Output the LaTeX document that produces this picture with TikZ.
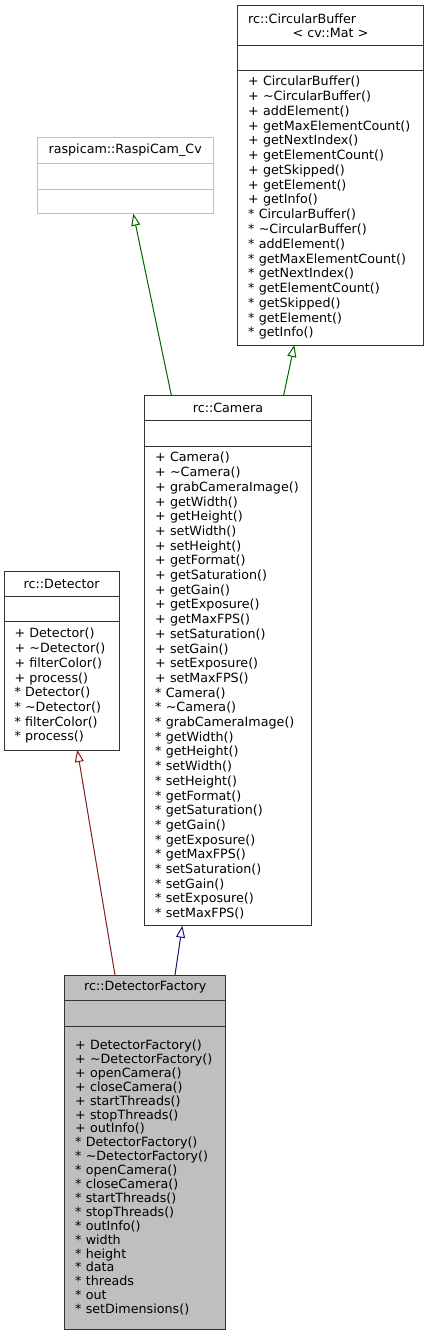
\documentclass[tikz,border=0pt]{standalone}
\usepackage{fontspec}
\setmainfont{DejaVu Sans}
\usetikzlibrary{arrows.meta,positioning}
\definecolor{inhgreen}{HTML}{006400}
\definecolor{inhred}{HTML}{8B1A1A}
\definecolor{inhblue}{HTML}{191970}

\begin{document}
\begin{tikzpicture}[x=1pt,y=-1pt,
  >={Triangle[open,length=12pt,width=9pt]},
  part/.style={draw=black!80,line width=1pt,outer sep=0pt,inner xsep=10.5pt,inner ysep=0pt,
    font=\fontsize{12.7}{14.7}\selectfont},
  ttl/.style={part,align=center},
  ops/.style={part,align=left},
  ext/.style={draw=black!25},
  inh/.style={->,line width=1pt}]
  \useasboundingbox (0,0) rectangle (429,1336);
  % template base
  \node[ttl,text width=164.6pt,minimum height=40pt,anchor=north west] (cbT) at (237.7,5.7)
    {\makebox[\linewidth][l]{rc::CircularBuffer}\\< cv::Mat >};
  \node[part,minimum width=185.6pt,minimum height=25pt,below=0pt of cbT] (cbA) {};
  \node[ops,text width=164.6pt,minimum height=274.3pt,below=0pt of cbA,
    font=\fontsize{12.7}{14.76}\selectfont] (cbM)
    {+ CircularBuffer()\\+ \textasciitilde CircularBuffer()\\+ addElement()\\+ getMaxElementCount()\\
     + getNextIndex()\\+ getElementCount()\\+ getSkipped()\\+ getElement()\\+ getInfo()\\
     {*} CircularBuffer()\\{*} \textasciitilde CircularBuffer()\\{*} addElement()\\{*} getMaxElementCount()\\
     {*} getNextIndex()\\{*} getElementCount()\\{*} getSkipped()\\{*} getElement()\\{*} getInfo()};
  % external class
  \node[ttl,ext,text width=154.7pt,minimum height=26pt,anchor=north west] (rcT) at (37.3,137.3)
    {raspicam::RaspiCam\_Cv};
  \node[part,ext,minimum width=175.7pt,minimum height=25.7pt,below=0pt of rcT] (rcA) {};
  \node[part,ext,minimum width=175.7pt,minimum height=24.7pt,below=0pt of rcA] (rcM) {};
  % camera
  \node[ttl,text width=145.6pt,minimum height=25.3pt,anchor=north west] (camT) at (144.7,395)
    {rc::Camera};
  \node[part,minimum width=166.6pt,minimum height=25.7pt,below=0pt of camT] (camA) {};
  \node[ops,text width=145.6pt,minimum height=479.7pt,below=0pt of camA] (camM)
    {+ Camera()\\+ \textasciitilde Camera()\\+ grabCameraImage()\\+ getWidth()\\+ getHeight()\\
     + setWidth()\\+ setHeight()\\+ getFormat()\\+ getSaturation()\\+ getGain()\\+ getExposure()\\
     + getMaxFPS()\\+ setSaturation()\\+ setGain()\\+ setExposure()\\+ setMaxFPS()\\
     {*} Camera()\\{*} \textasciitilde Camera()\\{*} grabCameraImage()\\{*} getWidth()\\{*} getHeight()\\
     {*} setWidth()\\{*} setHeight()\\{*} getFormat()\\{*} getSaturation()\\{*} getGain()\\{*} getExposure()\\
     {*} getMaxFPS()\\{*} setSaturation()\\{*} setGain()\\{*} setExposure()\\{*} setMaxFPS()};
  % detector
  \node[ttl,text width=94.3pt,minimum height=25pt,anchor=north west] (detT) at (4,571)
    {rc::Detector};
  \node[part,minimum width=115.3pt,minimum height=25.7pt,below=0pt of detT] (detA) {};
  \node[ops,text width=94.3pt,minimum height=128.3pt,below=0pt of detA] (detM)
    {+ Detector()\\+ \textasciitilde Detector()\\+ filterColor()\\+ process()\\
     {*} Detector()\\{*} \textasciitilde Detector()\\{*} filterColor()\\{*} process()};
  % detector factory
  \node[ttl,fill=black!25,text width=140pt,minimum height=25.3pt,anchor=north west] (dfT) at (64.7,975)
    {rc::DetectorFactory};
  \node[part,fill=black!25,minimum width=161pt,minimum height=25.7pt,below=0pt of dfT] (dfA) {};
  \node[ops,fill=black!25,text width=140pt,minimum height=303.3pt,below=0pt of dfA,
    font=\fontsize{12.7}{13.9}\selectfont] (dfM)
    {+ DetectorFactory()\\+ \textasciitilde DetectorFactory()\\+ openCamera()\\+ closeCamera()\\
     + startThreads()\\+ stopThreads()\\+ outInfo()\\{*} DetectorFactory()\\{*} \textasciitilde DetectorFactory()\\
     {*} openCamera()\\{*} closeCamera()\\{*} startThreads()\\{*} stopThreads()\\{*} outInfo()\\
     {*} width\\{*} height\\{*} data\\{*} threads\\{*} out\\{*} setDimensions()};
  % inheritance
  \draw[inh,inhgreen] ([xshift=26.6pt]camT.north west) -- ([xshift=96pt]rcM.south west);
  \draw[inh,inhgreen] ([xshift=139pt]camT.north west) -- ([xshift=56.6pt]cbM.south west);
  \draw[inh,inhred] ([xshift=50.3pt]dfT.north west) -- ([xshift=73.3pt]detM.south west);
  \draw[inh,inhblue] ([xshift=110.3pt]dfT.north west) -- ([xshift=37.6pt]camM.south west);
\end{tikzpicture}
\end{document}
